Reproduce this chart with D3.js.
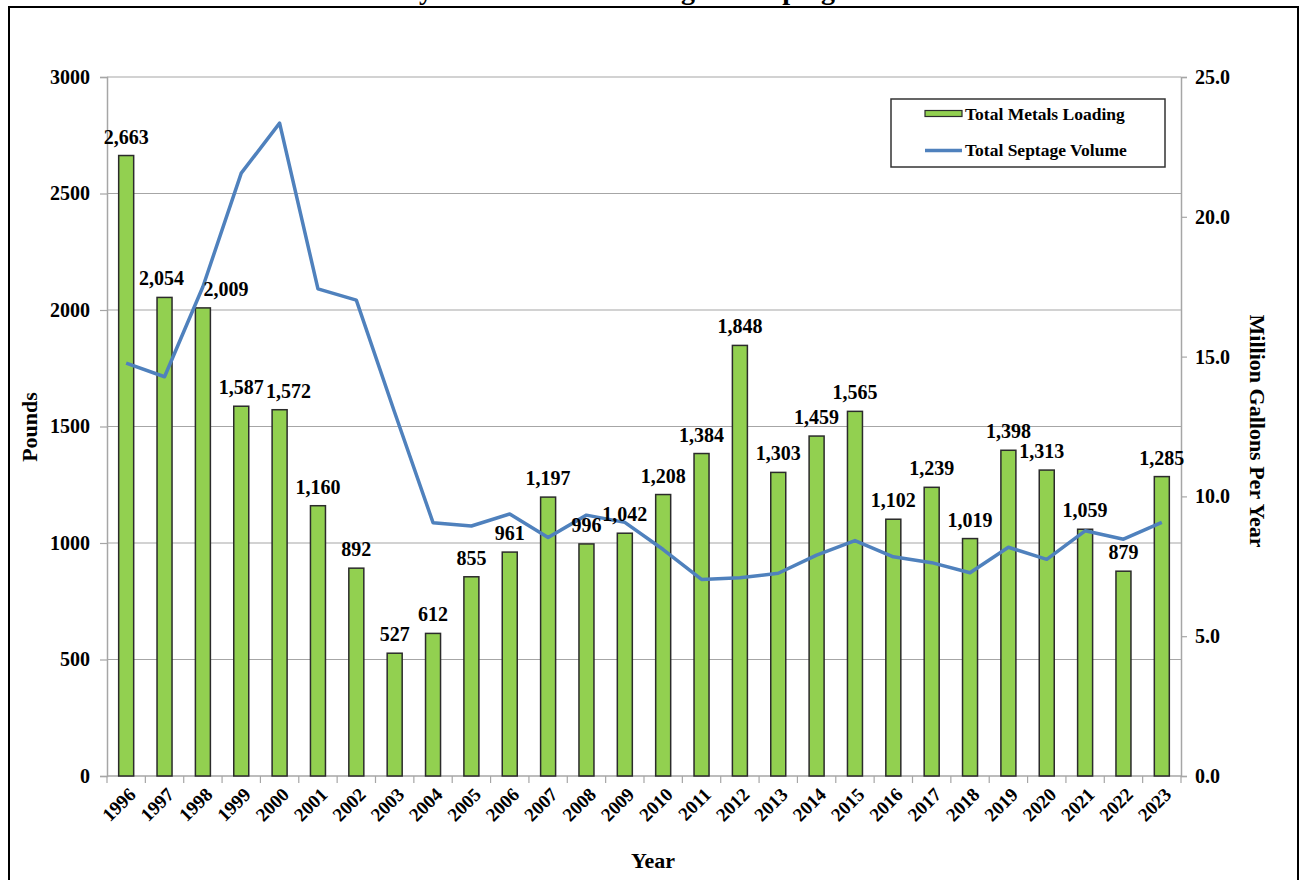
<!DOCTYPE html>
<html lang="en">
<head>
<meta charset="UTF-8">
<title>Total Metals Loading and Septage Volume</title>
<script src="https://cdn.jsdelivr.net/npm/d3@7"></script>
<style>
  body { margin: 0; background: #fff; }
  svg text { font-family: "Liberation Serif", "Times New Roman", serif; font-weight: bold; fill: #000; }
</style>
</head>
<body>
<div id="chart"></div>
<script>
// data
const years = ["1996","1997","1998","1999","2000","2001","2002","2003","2004","2005",
  "2006","2007","2008","2009","2010","2011","2012","2013","2014","2015",
  "2016","2017","2018","2019","2020","2021","2022","2023"];
const metalsLoading = [2663, 2054, 2009, 1587, 1572, 1160, 892, 527, 612, 855,
  961, 1197, 996, 1042, 1208, 1384, 1848, 1303, 1459, 1565,
  1102, 1239, 1019, 1398, 1313, 1059, 879, 1285];
const septageVolume = [14.77, 14.28, 17.5, 21.56, 23.35, 17.42, 17.02, 13.0, 9.06, 8.94,
  9.37, 8.53, 9.33, 9.07, 8.1, 7.03, 7.09, 7.25, 7.9, 8.42,
  7.84, 7.63, 7.27, 8.18, 7.75, 8.77, 8.47, 9.07];
const poundsTicks = [0, 500, 1000, 1500, 2000, 2500, 3000];
const gallonTicks = [0, 5, 10, 15, 20, 25];

const W = 1301, H = 880;
const plotL = 107, plotR = 1181, plotT = 77, plotB = 776;

const svg = d3.select("#chart").append("svg")
  .attr("width", W).attr("height", H);

// outer frame
svg.append("rect")
  .attr("x", 9).attr("y", 7).attr("width", 1289).attr("height", 900)
  .attr("fill", "none").attr("stroke", "#000").attr("stroke-width", 2);

// title (cut off at top like the source image)
svg.append("text")
  .attr("x", 650).attr("y", -1)
  .attr("text-anchor", "middle")
  .attr("font-size", 28)
  .text("Yearly Total Metals Loading and Septage Volume");

const x = d3.scaleBand().domain(years).range([plotL, plotR]).padding(0);
const yL = d3.scaleLinear().domain([0, 3000]).range([plotB, plotT]);
const yR = d3.scaleLinear().domain([0, 25]).range([plotB, plotT]);

// gridlines
svg.append("g").selectAll("line")
  .data(poundsTicks.filter(d => d > 0))
  .join("line")
  .attr("x1", plotL).attr("x2", plotR)
  .attr("y1", d => yL(d)).attr("y2", d => yL(d))
  .attr("stroke", "#a6a6a6").attr("stroke-width", 1.2);

// left axis
const axL = svg.append("g").attr("transform", `translate(${plotL},0)`)
  .call(d3.axisLeft(yL).tickValues(poundsTicks).tickSize(7).tickPadding(10).tickFormat(d3.format("d")));
axL.select(".domain").attr("stroke", "#a6a6a6").attr("stroke-width", 1.5);
axL.selectAll(".tick line").attr("stroke", "#a6a6a6").attr("stroke-width", 1.2);
axL.selectAll("text").attr("font-size", 20).attr("font-family", null).style("fill", "#000");

// right axis
const axR = svg.append("g").attr("transform", `translate(${plotR},0)`)
  .call(d3.axisRight(yR).tickValues(gallonTicks).tickSize(6).tickPadding(8).tickFormat(d3.format(".1f")));
axR.select(".domain").attr("stroke", "#a6a6a6").attr("stroke-width", 1.5);
axR.selectAll(".tick line").attr("stroke", "#a6a6a6").attr("stroke-width", 1.2);
axR.selectAll("text").attr("font-size", 20).attr("font-family", null).style("fill", "#000");

// bottom axis: baseline, ticks at band edges, rotated labels
svg.append("line")
  .attr("x1", plotL).attr("x2", plotR).attr("y1", plotB).attr("y2", plotB)
  .attr("stroke", "#a6a6a6").attr("stroke-width", 1.5);
svg.append("g").selectAll("line")
  .data(years.concat(["end"]))
  .join("line")
  .attr("x1", d => d === "end" ? plotR : x(d))
  .attr("x2", d => d === "end" ? plotR : x(d))
  .attr("y1", plotB).attr("y2", plotB + 7)
  .attr("stroke", "#a6a6a6").attr("stroke-width", 1.2);
svg.append("g").selectAll("text")
  .data(years)
  .join("text")
  .attr("transform", d => `translate(${x(d) + x.bandwidth() / 2 + 6},${plotB + 15}) rotate(-45)`)
  .attr("text-anchor", "end")
  .attr("dy", "0.35em")
  .attr("font-size", 19)
  .text(d => d);

// bars
const barW = 15;
const bars = years.map((yr, i) => ({ year: yr, value: metalsLoading[i] }));
svg.append("g").selectAll("rect")
  .data(bars)
  .join("rect")
  .attr("x", d => x(d.year) + x.bandwidth() / 2 - barW / 2)
  .attr("y", d => yL(d.value))
  .attr("width", barW)
  .attr("height", d => plotB - yL(d.value))
  .attr("fill", "#92d050")
  .attr("stroke", "#2b2b2b")
  .attr("stroke-width", 1.5);

// septage line
const pts = years.map((yr, i) => ({ year: yr, value: septageVolume[i] }));
svg.append("path")
  .datum(pts)
  .attr("fill", "none")
  .attr("stroke", "#4f81bd")
  .attr("stroke-width", 3.5)
  .attr("stroke-linejoin", "round")
  .attr("d", d3.line().x(d => x(d.year) + x.bandwidth() / 2).y(d => yR(d.value)));

// value labels (a few nudged sideways like in the source)
const nudge = { "1997": -3, "1998": 23, "2000": 9, "2020": -5 };
svg.append("g").selectAll("text")
  .data(bars)
  .join("text")
  .attr("x", d => x(d.year) + x.bandwidth() / 2 + (nudge[d.year] || 0))
  .attr("y", d => yL(d.value) - 12)
  .attr("text-anchor", "middle")
  .attr("font-size", 20)
  .text(d => d3.format(",")(d.value));

// legend
const lg = svg.append("g");
lg.append("rect")
  .attr("x", 891).attr("y", 99).attr("width", 274).attr("height", 68)
  .attr("fill", "#fff").attr("stroke", "#333").attr("stroke-width", 1.5);
lg.append("rect")
  .attr("x", 925).attr("y", 110.5).attr("width", 37).attr("height", 6)
  .attr("fill", "#92d050").attr("stroke", "#2b2b2b").attr("stroke-width", 1.2);
lg.append("text").attr("x", 965).attr("y", 120).attr("font-size", 17.5).text("Total Metals Loading");
lg.append("line")
  .attr("x1", 925).attr("x2", 962).attr("y1", 150.5).attr("y2", 150.5)
  .attr("stroke", "#4f81bd").attr("stroke-width", 3.5);
lg.append("text").attr("x", 965).attr("y", 156).attr("font-size", 17.5).text("Total Septage Volume");

// axis titles
svg.append("text")
  .attr("transform", "translate(37,427) rotate(-90)")
  .attr("text-anchor", "middle")
  .attr("font-size", 22)
  .text("Pounds");
svg.append("text")
  .attr("transform", "translate(1250,431) rotate(90)")
  .attr("text-anchor", "middle")
  .attr("font-size", 22)
  .text("Million Gallons Per Year");
svg.append("text")
  .attr("x", 653).attr("y", 868)
  .attr("text-anchor", "middle")
  .attr("font-size", 22)
  .text("Year");
</script>
</body>
</html>
